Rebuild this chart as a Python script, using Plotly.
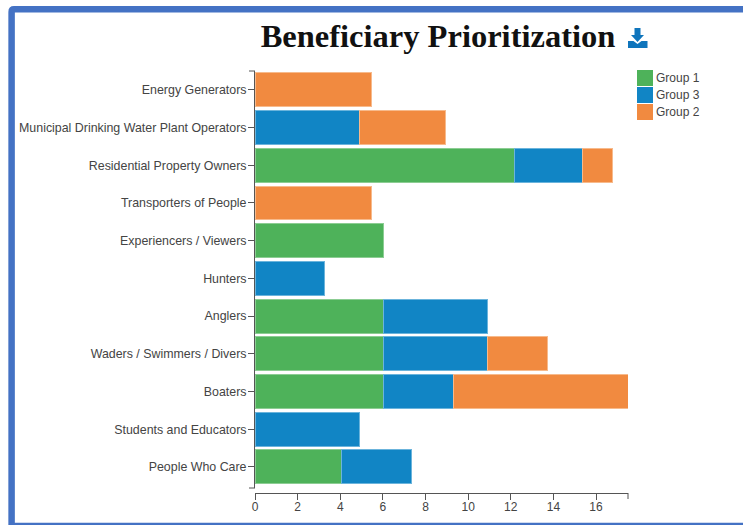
import plotly.graph_objects as go

categories = [
    'Energy Generators',
    'Municipal Drinking Water Plant Operators',
    'Residential Property Owners',
    'Transporters of People',
    'Experiencers / Viewers',
    'Hunters',
    'Anglers',
    'Waders / Swimmers / Divers',
    'Boaters',
    'Students and Educators',
    'People Who Care',
]

group_1 = [None, None, 12.16, None, 6.05, None, 6.05, 6.05, 6.05, None, 4.07]
group_3 = [None, 4.88, 3.21, None, None, 3.25, 4.88, 4.88, 3.25, 4.88, 3.25]
group_2 = [5.45, 4.08, 1.38, 5.45, None, None, None, 2.77, 8.2, None, None]

x_ticks = [0, 2, 4, 6, 8, 10, 12, 14, 16]

GREEN = '#4EB25A'
BLUE = '#1185C5'
ORANGE = '#F18A40'
TEXT = '#444444'
AXIS = '#555555'

# Plot area in page pixels, everything drawn by hand is placed relative to it
LEFT, RIGHT, TOP, BOTTOM = 255, 628, 71, 493


def px(x):
    return (x - LEFT) / (RIGHT - LEFT)


def py(y):
    return (BOTTOM - y) / (BOTTOM - TOP)


def line(x0, y0, x1, y1, color=AXIS, width=1):
    return dict(type='line', xref='paper', yref='paper', x0=px(x0), y0=py(y0), x1=px(x1), y1=py(y1),
                line=dict(color=color, width=width), layer='above')


fig = go.Figure()

# Stacking order is the same as the legend order
for name, values, color, edge in [
    ('Group 1', group_1, GREEN, '#8CCD93'),
    ('Group 3', group_3, BLUE, '#6BB4DC'),
    ('Group 2', group_2, ORANGE, '#F7BA8C'),
]:
    fig.add_trace(go.Bar(
        y=categories,
        x=values,
        name=name,
        orientation='h',
        marker=dict(color=color, line=dict(color=edge, width=1)),
        showlegend=False,
    ))

shapes = [
    # Frame around the card, the right side runs off the page
    dict(type='path', xref='paper', yref='paper',
         path=f'M {px(11.6)} {py(540)} L {px(11.6)} {py(12)} Q {px(11.6)} {py(9.3)} {px(14)} {py(9.3)} '
              f'L {px(780)} {py(9.3)} L {px(780)} {py(526)} L {px(11.6)} {py(526)} Z',
         line=dict(color='#4472C4', width=6.5), fillcolor='rgba(0,0,0,0)', layer='below'),
    # Outer ticks of the axes
    line(249, 71, 255, 71),
    line(249, 488, 255, 488),
    line(628, 493, 628, 499),
    # Download icon
    dict(type='path', xref='paper', yref='paper',
         path=f'M {px(634.5)} {py(28)} L {px(640.5)} {py(28)} L {px(640.5)} {py(35)} L {px(644)} {py(35)} '
              f'L {px(637.5)} {py(42)} L {px(631)} {py(35)} L {px(634.5)} {py(35)} Z',
         line=dict(width=0), fillcolor='#0F75BC', layer='above'),
    dict(type='path', xref='paper', yref='paper',
         path=f'M {px(628)} {py(41)} L {px(633.5)} {py(41)} L {px(637.5)} {py(44)} L {px(641.5)} {py(41)} '
              f'L {px(647.5)} {py(41)} L {px(647.5)} {py(48)} L {px(628)} {py(48)} Z',
         line=dict(width=0), fillcolor='#0F75BC', layer='above'),
]

# Legend is drawn by hand because the swatches are large squares
annotations = []
for i, (name, color) in enumerate([('Group 1', GREEN), ('Group 3', BLUE), ('Group 2', ORANGE)]):
    y0 = 70 + i * 17
    shapes.append(dict(type='rect', xref='paper', yref='paper', x0=px(637), x1=px(653), y0=py(y0), y1=py(y0 + 16),
                       fillcolor=color, line=dict(width=0), layer='above'))
    annotations.append(dict(text=name, xref='paper', yref='paper', x=px(653.5), y=py(y0 + 8), xanchor='left',
                            yanchor='middle', showarrow=False, font=dict(size=12, color=TEXT)))

fig.update_layout(
    width=743,
    height=525,
    barmode='stack',
    bargap=0.1,
    paper_bgcolor='white',
    plot_bgcolor='white',
    margin=dict(l=LEFT, r=743 - RIGHT, t=TOP, b=525 - BOTTOM, autoexpand=False),
    font=dict(family='Liberation Sans, Arial, sans-serif', size=12, color=TEXT),
    title=dict(
        text='<b>Beneficiary Prioritization</b>',
        font=dict(family='Liberation Serif, serif', size=32.5, color='#111111'),
        xref='paper', x=px(438), xanchor='center',
        yref='container', y=1 - 36 / 525, yanchor='middle',
    ),
    xaxis=dict(
        range=[0, 17.5],
        tickvals=x_ticks,
        ticks='outside',
        ticklen=6,
        tickcolor=AXIS,
        ticklabelstandoff=-3,
        showline=True,
        linecolor=AXIS,
        showgrid=False,
        zeroline=False,
        anchor='free',
        position=0,
    ),
    yaxis=dict(
        domain=[py(488), 1],
        type='category',
        categoryorder='array',
        categoryarray=categories,
        range=[10.56, -0.5],
        ticks='outside',
        ticklen=6,
        tickcolor=AXIS,
        tickfont=dict(size=12.4),
        ticklabelstandoff=-1,
        showline=True,
        linecolor=AXIS,
        showgrid=False,
        zeroline=False,
    ),
    shapes=shapes,
    annotations=annotations,
)

# The page body has a default margin that would push the chart off its place
fig.write_html(
    "out.html",
    config=dict(displayModeBar=False),
    post_script="document.body.style.margin = '0'; document.body.style.overflow = 'hidden';",
)
